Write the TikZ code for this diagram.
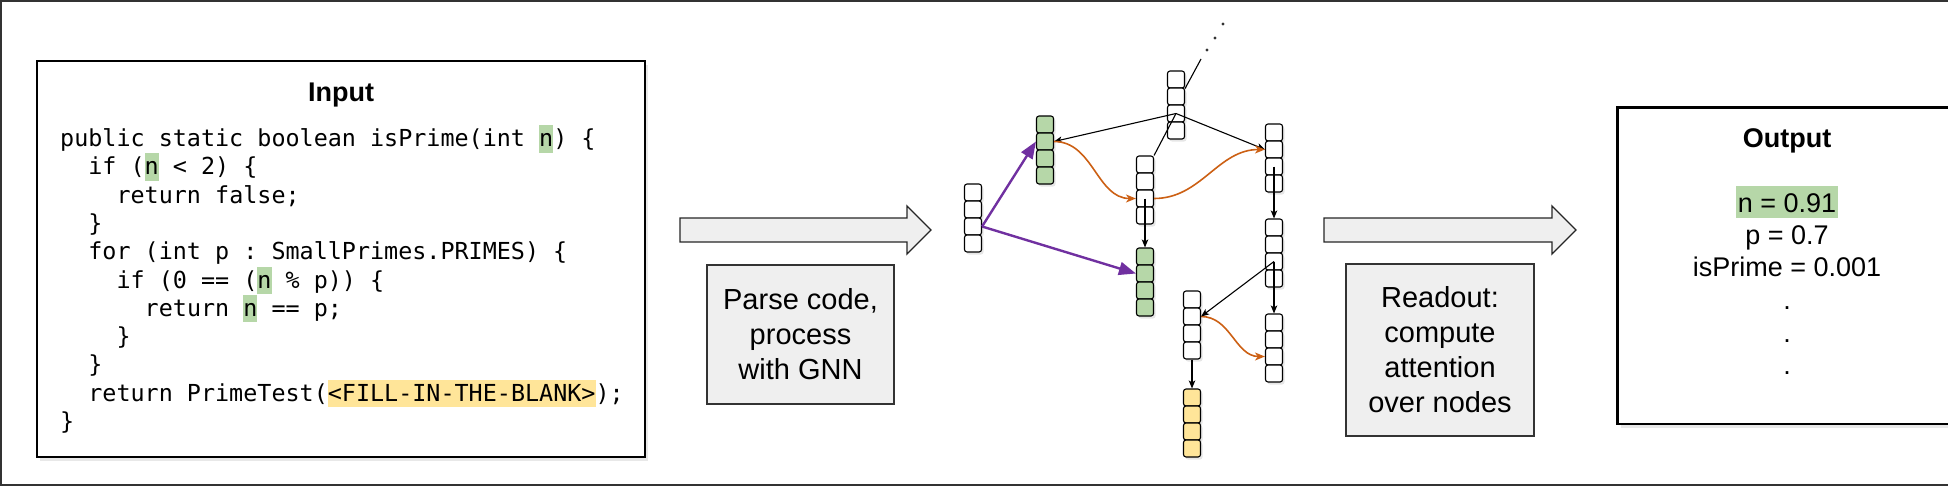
\documentclass[tikz,border=0pt]{standalone}
\usepackage{fontspec}
\setmainfont{Liberation Sans}
\setmonofont{DejaVu Sans Mono}
\usetikzlibrary{arrows.meta, shadows}
\definecolor{hlgreen}{RGB}{182,215,168}
\definecolor{hlyellow}{RGB}{255,229,153}
\definecolor{boxgray}{RGB}{239,239,239}
\definecolor{edgepurple}{RGB}{112,48,160}
\definecolor{edgeorange}{RGB}{204,96,20}
\definecolor{framegray}{RGB}{51,51,51}
\newcommand{\hlg}[1]{{\setlength{\fboxsep}{0pt}\colorbox{hlgreen}{\rule[-6pt]{0pt}{27.5pt}#1}}}
\newcommand{\hly}[1]{{\setlength{\fboxsep}{0pt}\colorbox{hlyellow}{\rule[-6pt]{0pt}{27.5pt}#1}}}
\frenchspacing

\begin{document}
\begin{tikzpicture}[x=1pt, y=-1pt,
    panel/.style={draw=black, line width=2.4pt, fill=white, inner sep=0pt,
      drop shadow={shadow xshift=3pt, shadow yshift=-4pt, opacity=0.18}},
    paneltitle/.style={font=\fontsize{27}{32}\selectfont\bfseries, anchor=base, inner sep=0pt},
    codeline/.style={font=\ttfamily\fontsize{23.4}{28.3}\selectfont, anchor=base west, inner sep=0pt},
    stepbox/.style={draw=framegray, line width=1.3pt, fill=boxgray, align=center,
      font=\fontsize{29}{35}\selectfont},
    outtext/.style={font=\fontsize{27}{32}\selectfont, anchor=base, inner sep=0pt},
    blockarrow/.style={draw=black!85, line width=1.3pt, fill=boxgray},
    cell/.style={draw=black, line width=1.1pt, rounded corners=2.5pt, minimum width=17pt,
      minimum height=17pt, inner sep=0pt,
      drop shadow={shadow xshift=2pt, shadow yshift=-2.5pt, opacity=0.2}},
    flowedge/.style={-{Stealth[length=8pt, width=6.5pt, inset=2pt]}, line width=1.1pt},
    treeline/.style={line width=1.1pt},
    purpleedge/.style={-{Triangle[length=17pt, width=13pt]}, edgepurple, line width=2.4pt},
    orangeedge/.style={-{Stealth[length=10pt, width=8pt, inset=3pt]}, edgeorange, line width=1.6pt}
  ]
  \useasboundingbox (0,0) rectangle (1948,488);
  \clip (0,0) rectangle (1948,488);
  \draw[framegray, line width=2pt] (1,1) rectangle (1960,485);

  % input program
  \node[panel, minimum width=608pt, minimum height=396pt] (input) at (341,259) {};
  \node[paneltitle] (intitle) at (341,101) {Input};
  \foreach \ind/\txt [count=\i] in {
      0/{public static boolean isPrime(int \hlg{n}) \{},
      2/{if (\hlg{n} < 2) \{},
      4/{return false;},
      2/{\}},
      2/{for (int p : SmallPrimes.PRIMES) \{},
      4/{if (0 == (\hlg{n} \% p)) \{},
      6/{return \hlg{n} == p;},
      4/{\}},
      2/{\}},
      2/{return PrimeTest(\hly{<FILL-IN-THE-BLANK>});},
      0/{\}}}
    \node[codeline] (code\i) at ({60+14.09*\ind},{146.5+28.3*(\i-1)}) {\txt};

  % steps
  \foreach \xa/\xb/\xt in {680/907/931, 1324/1552/1576}
    \draw[blockarrow] (\xa,218) -- (\xb,218) -- (\xb,206) -- (\xt,230) -- (\xb,254)
      -- (\xb,242) -- (\xa,242) -- cycle;
  \node[stepbox, minimum width=187pt, minimum height=139pt] (parse) at (800.5,334.5)
    {Parse code,\\process\\with GNN};
  \node[stepbox, minimum width=188pt, minimum height=172pt] (readout) at (1440,350)
    {Readout:\\compute\\attention\\over nodes};

  % graph of node vectors
  \foreach \n/\x/\y/\c in {v0/973/184/white, v1/1045/116/hlgreen, v2/1176/71/white,
      v3/1145/156/white, v4/1145/248/hlgreen, v5/1274/124/white, v6/1274/219/white,
      v7/1274/314/white, v8/1192/291/white, v9/1192/389/hlyellow}
    \foreach \k in {1,...,4}
      \node[cell, fill=\c] (\n-\k) at (\x,{\y+17*\k-8.5}) {};

  \draw[purpleedge] (v0-3.east) -- (v1-2.west);
  \draw[purpleedge] (v0-3.east) -- (v4-2.west);
  \draw[flowedge] (v2-3.center) -- (v1-2.east);
  \draw[flowedge] (v2-3.center) -- (v5-2.west);
  \draw[treeline] (v3-1.north east) -- (v2-3.center);
  \coordinate (more) at (1201,59);
  \draw[treeline] (v2-1.south east) -- (more);
  \foreach \x/\y in {1207/50, 1215/38, 1223/24}
    \fill[framegray] (\x,\y) circle (1.6);
  \draw[orangeedge] (v1-2.east) to[out=0, in=180] (v3-3.west);
  \draw[orangeedge] (v3-3.east) to[out=0, in=180] (v5-2.west);
  \draw[orangeedge] (v8-2.east) to[out=0, in=180] (v7-3.west);
  \draw[flowedge] (v3-3.center) -- (v4-1.north);
  \draw[flowedge] (v5-3.center) -- (v6-1.north);
  \draw[flowedge] (v6-3.center) -- (v7-1.north);
  \draw[flowedge] (v6-3.center) -- (v8-2.east);
  \draw[flowedge] (v8-4.south) -- (v9-1.north);

  % output
  \node[panel, minimum width=339pt, minimum height=316.5pt] (output) at (1787,265.75) {};
  \node[paneltitle] (outtitle) at (1787,147) {Output};
  \node[outtext, fill=hlgreen, text height=23pt, text depth=3pt, inner xsep=1.5pt,
    inner ysep=3pt] (nval) at (1787,212) {n = 0.91};
  \node[outtext] (pval) at (1787,244) {p = 0.7};
  \node[outtext] (primeval) at (1787,276) {isPrime = 0.001};
  \foreach \y [count=\k] in {309,342,374}
    \node[outtext] (dot\k) at (1787,\y) {.};
\end{tikzpicture}
\end{document}
